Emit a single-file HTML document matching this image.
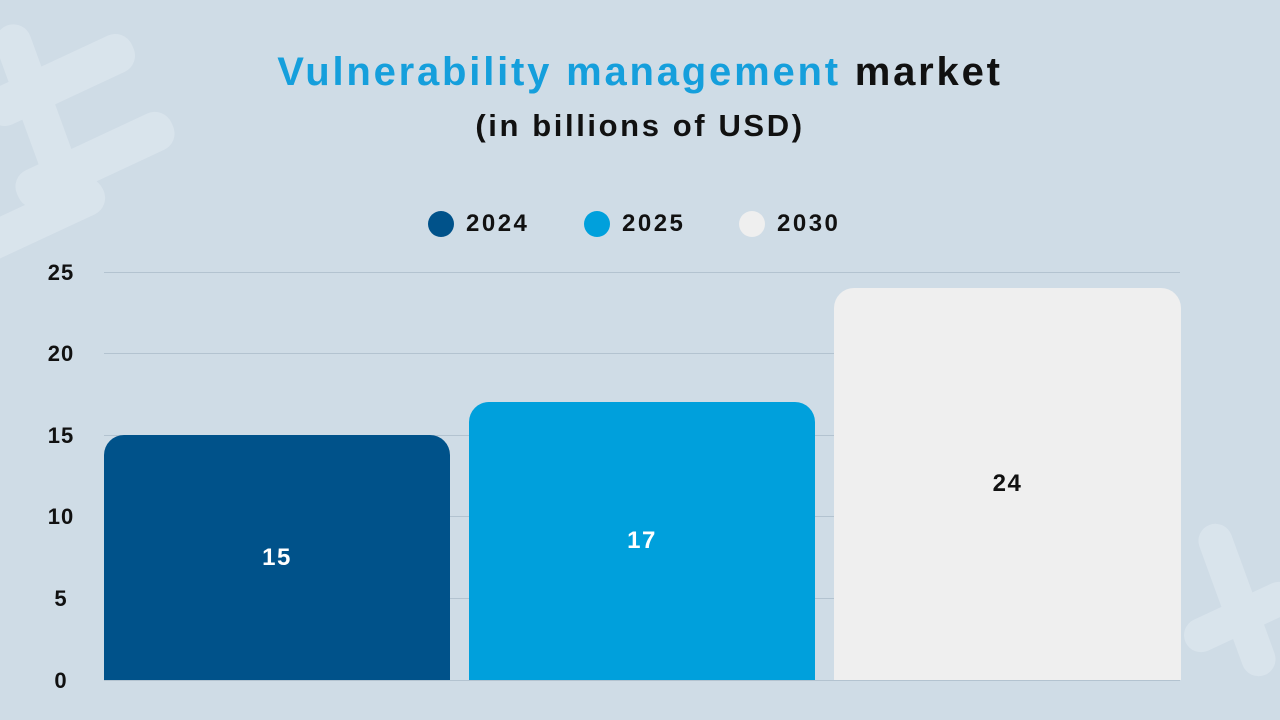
<!DOCTYPE html>
<html><head><meta charset="utf-8"><style>
html,body{margin:0;padding:0}
body{width:1280px;height:720px;background:#cfdce6;position:relative;overflow:hidden;font-family:"Liberation Sans","DejaVu Sans",sans-serif;font-weight:bold;color:#111}
.t{position:absolute;left:0;width:1280px;text-align:center}
.g{position:absolute;left:104px;width:1076px;height:1px;background:#b3c3d0}
.yl{position:absolute;left:40px;width:42px;text-align:center;font-size:22px;letter-spacing:1px}
.bar{position:absolute;border-radius:20px 20px 0 0;display:flex;align-items:center;justify-content:center;font-size:24px;letter-spacing:1.5px}
.lg{position:absolute;top:210px;font-size:24px;display:flex;align-items:center;letter-spacing:2.5px}
.lg i{display:inline-block;width:26px;height:26px;border-radius:50%;margin-right:12px}
</style></head><body>
<svg style="position:absolute;left:0;top:0" width="1280" height="720">
<g fill="#dbe5ed" opacity="0.9">
<rect x="-20" y="60" width="160" height="40" rx="18" transform="rotate(-25 60 80)"/>
<rect x="10" y="140" width="170" height="40" rx="18" transform="rotate(-25 95 160)"/>
<rect x="-30" y="200" width="140" height="38" rx="18" transform="rotate(-25 40 220)"/>
<rect x="20" y="20" width="36" height="180" rx="18" transform="rotate(-20 38 110)"/>
<rect x="1220" y="520" width="34" height="160" rx="17" transform="rotate(-20 1237 600)"/>
<rect x="1180" y="600" width="120" height="34" rx="17" transform="rotate(-25 1240 617)"/>
</g></svg>
<div class="t" style="top:50px;font-size:40px;letter-spacing:2.8px"><span style="color:#159fdc">Vulnerability management</span> market</div>
<div class="t" style="top:108px;font-size:31px;letter-spacing:2.6px">(in billions of USD)</div>
<div class="lg" style="left:428px"><i style="background:#00528a"></i>2024</div>
<div class="lg" style="left:584px"><i style="background:#00a0dc"></i>2025</div>
<div class="lg" style="left:739px"><i style="background:#efefef"></i>2030</div>
<div class="g" style="top:272px"></div>
<div class="g" style="top:353px"></div>
<div class="g" style="top:435px"></div>
<div class="g" style="top:516px"></div>
<div class="g" style="top:598px"></div>
<div class="g" style="top:680px"></div>
<div class="yl" style="top:260px">25</div>
<div class="yl" style="top:341px">20</div>
<div class="yl" style="top:423px">15</div>
<div class="yl" style="top:504px">10</div>
<div class="yl" style="top:586px">5</div>
<div class="yl" style="top:668px">0</div>
<div class="bar" style="left:104px;width:346px;top:435px;height:245px;background:#00528a;color:#fff">15</div>
<div class="bar" style="left:469px;width:346px;top:402px;height:278px;background:#00a0dc;color:#fff">17</div>
<div class="bar" style="left:834px;width:347px;top:288px;height:392px;background:#efefef;color:#111">24</div>
</body></html>
